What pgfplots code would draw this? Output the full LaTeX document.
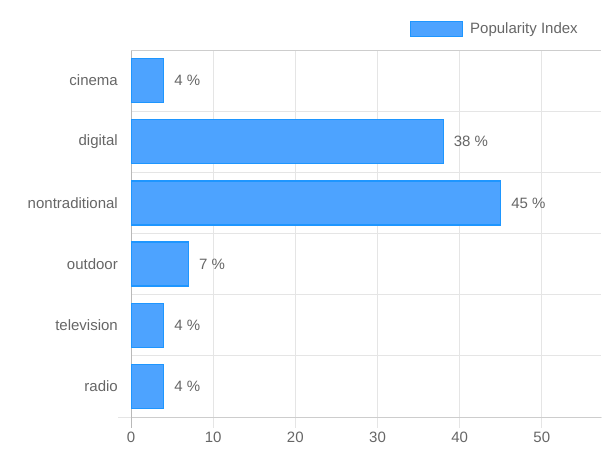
\documentclass[border=0pt]{standalone}
\usepackage{fontspec}
\setmainfont{Liberation Sans}
\usepackage{pgfplots}
\pgfplotsset{compat=1.18}
\definecolor{barfill}{RGB}{77,163,255}
\definecolor{barline}{RGB}{30,150,255}
\definecolor{txt}{RGB}{102,102,102}
\definecolor{gridc}{RGB}{229,229,229}
\definecolor{axisc}{RGB}{205,205,205}
\definecolor{yaxisc}{RGB}{185,185,185}
\begin{document}
\begin{tikzpicture}
\useasboundingbox (0,0) rectangle (602pt,463pt);
\begin{axis}[
  at={(131pt,46pt)}, anchor=south west,
  scale only axis, width=470pt, height=367pt,
  xbar, bar width=44pt,
  xmin=0, xmax=57.2,
  ymin=-0.5, ymax=5.5, y dir=reverse,
  ytick={0,1,2,3,4,5},
  yticklabels={cinema,digital,nontraditional,outdoor,television,radio},
  minor ytick={-0.5,0.5,1.5,2.5,3.5,4.5,5.5},
  xtick={0,10,20,30,40,50},
  axis x line*=bottom, axis y line*=left,
  x axis line style={-, draw=axisc, line width=1pt},
  y axis line style={-, draw=yaxisc, line width=1pt, shorten >=-11pt},
  tick align=outside,
  major tick length=11pt, minor tick length=13pt,
  xtick style={draw=gridc, line width=1pt},
  ytick style={draw=none},
  xmajorgrids, yminorgrids,
  major grid style={draw=gridc, line width=1pt, shorten >=-11pt},
  minor grid style={draw=gridc, line width=1pt, shorten <=-13pt, shorten >=-13pt},
  /pgf/number format/assume math mode=true,
  ticklabel style={font=\fontsize{15pt}{18pt}\selectfont, text=txt},
  yticklabel style={inner sep=0pt, xshift=-2pt},
  xticklabel style={inner sep=0pt, yshift=-4pt},
  nodes near coords={\pgfmathprintnumber{\pgfplotspointmeta}\ \%},
  point meta=x,
  every node near coord/.append style={font=\fontsize{15pt}{18pt}\selectfont, text=txt, inner sep=0pt, xshift=10pt, anchor=west},
  legend style={draw=none, fill=none, inner sep=0pt, outer sep=0pt,
    at={(axis description cs:0.5936,1)}, anchor=south west, yshift=13pt,
    font=\fontsize{15pt}{18pt}\selectfont, text=txt,
    nodes={inner sep=0pt}, column sep=7pt},
  legend image code/.code={\draw[fill=barfill, draw=barline, line width=1.2pt] (0pt,-7.5pt) rectangle (52pt,7.5pt);},
]
\addplot[fill=barfill, draw=barline, line width=1.2pt] coordinates {
  (4,0) (38,1) (45,2) (7,3) (4,4) (4,5)
};
\addlegendentry{Popularity Index}
\draw[axisc, line width=1pt] ([xshift=-13pt]axis description cs:0,1) -- (axis description cs:1,1);
\end{axis}
\end{tikzpicture}
\end{document}
